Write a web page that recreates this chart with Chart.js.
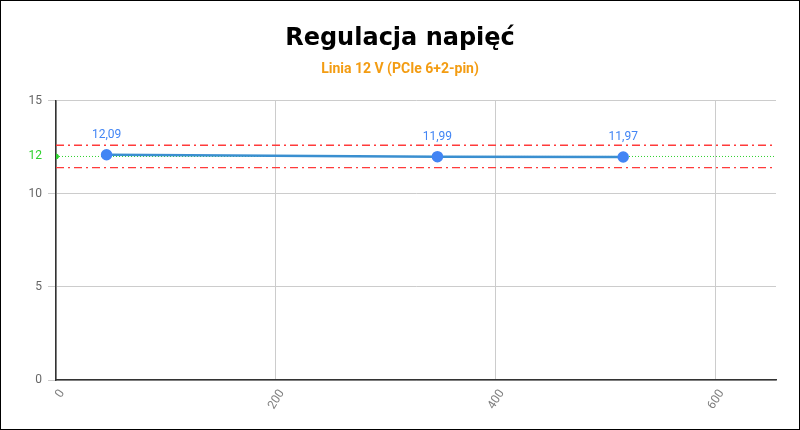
<!DOCTYPE html>
<html>
<head>
<meta charset="utf-8">
<script src="https://cdn.jsdelivr.net/npm/chart.js@4"></script>
<style>
  body { margin: 0; background: #fff; }
  #wrap { width: 800px; height: 430px; }
</style>
</head>
<body>
<div id="wrap"><canvas id="chart"></canvas></div>
<script>
// load (W) and measured voltage on the 12 V line
const loads = [46, 347, 516];
const voltages = [12.09, 11.99, 11.97];
const nominal = 12;
const upperLimit = 12.6;
const lowerLimit = 11.4;
const xMax = 655;
const xTicks = [0, 200, 400, 600];
const yTicks = [0, 5, 10, 12, 15];

const greenColor = '#2fd12f';
const blueColor = '#4285f4';
const redColor = '#ff3b3b';

// black frame round the whole picture
const framePlugin = {
    id: 'frame',
    afterDraw(chart) {
        const c = chart.ctx;
        c.save();
        c.strokeStyle = '#000';
        c.lineWidth = 2;
        c.strokeRect(0, 0, chart.width, chart.height);
        c.restore();
    }
};

// value labels above the points, with a decimal comma
const valueLabels = {
    id: 'valueLabels',
    afterDatasetsDraw(chart) {
        const meta = chart.getDatasetMeta(0);
        const c = chart.ctx;
        c.save();
        c.font = '12px Roboto';
        c.fillStyle = blueColor;
        c.textAlign = 'center';
        c.textBaseline = 'bottom';
        meta.data.forEach((pt, i) => {
            c.fillText(voltages[i].toFixed(2).replace('.', ','), pt.x, pt.y - 14);
        });
        c.restore();
    }
};

// slanted x labels, turned round a point a little right of the tick
const xLabels = {
    id: 'xLabels',
    afterDraw(chart) {
        const scale = chart.scales.x;
        const c = chart.ctx;
        c.save();
        c.font = '12px Roboto';
        c.fillStyle = '#808080';
        c.textAlign = 'right';
        c.textBaseline = 'middle';
        xTicks.forEach(v => {
            const px = scale.getPixelForValue(v);
            c.save();
            c.translate(px + 6, scale.top + 11);
            c.rotate(-58 * Math.PI / 180);
            c.fillText(String(v), 0, 0);
            c.restore();
        });
        c.restore();
    }
};

const ctx = document.getElementById('chart').getContext('2d');
const chart = new Chart(ctx, {
    type: 'scatter',
    data: {
        datasets: [{
            label: 'Napięcie',
            data: loads.map((x, i) => ({ x: x, y: voltages[i] })),
            showLine: true,
            borderColor: '#3a8fd0',
            backgroundColor: blueColor,
            pointBackgroundColor: blueColor,
            pointBorderColor: blueColor,
            borderWidth: 2.5,
            pointRadius: 4.5,
            order: 0
        }, {
            label: 'Nominal',
            data: [{ x: 0, y: nominal }, { x: xMax, y: nominal }],
            showLine: true,
            borderColor: greenColor,
            borderWidth: 1,
            borderDash: [1, 2],
            pointRadius: [2.5, 0],
            pointBackgroundColor: greenColor,
            pointBorderColor: greenColor,
            order: 1
        }, {
            label: 'Max',
            data: [{ x: 0, y: upperLimit }, { x: xMax, y: upperLimit }],
            showLine: true,
            borderColor: redColor,
            borderWidth: 1.4,
            borderDash: [8, 4, 2, 4],
            pointRadius: 0,
            order: 2
        }, {
            label: 'Min',
            data: [{ x: 0, y: lowerLimit }, { x: xMax, y: lowerLimit }],
            showLine: true,
            borderColor: redColor,
            borderWidth: 1.4,
            borderDash: [8, 4, 2, 4],
            pointRadius: 0,
            order: 2
        }]
    },
    options: {
        responsive: true,
        maintainAspectRatio: false,
        animation: false,
        layout: {
            padding: { top: 24, right: 12, bottom: 1, left: 12 }
        },
        scales: {
            x: {
                type: 'linear',
                min: 0,
                max: xMax,
                border: { display: true, color: '#333', width: 1.5 },
                grid: { color: '#cccccc', drawTicks: false },
                afterBuildTicks(scale) {
                    scale.ticks = xTicks.map(v => ({ value: v }));
                },
                ticks: { display: false },
                afterFit(scale) { scale.height = 49; }
            },
            y: {
                min: 0,
                max: 15,
                border: { display: true, color: '#333', width: 1.5 },
                afterBuildTicks(scale) {
                    scale.ticks = yTicks.map(v => ({ value: v }));
                },
                grid: {
                    color: c => (c.tick && c.tick.value === nominal) ? 'rgba(0,0,0,0)' : '#cccccc',
                    tickColor: c => (c.tick && c.tick.value === nominal) ? 'rgba(0,0,0,0)' : '#cccccc',
                    tickLength: 8
                },
                ticks: {
                    padding: 6,
                    color: c => (c.tick && c.tick.value === nominal) ? greenColor : '#666',
                    font: { family: 'Roboto', size: 12 }
                },
                afterFit(scale) { scale.width = 44; }
            },
            // empty axis on the right so the titles stay centred on the page
            yRight: {
                position: 'right',
                display: true,
                grid: { display: false },
                border: { display: false },
                ticks: { display: false },
                afterFit(scale) { scale.width = 12; }
            }
        },
        plugins: {
            legend: { display: false },
            tooltip: { enabled: false },
            title: {
                display: true,
                text: 'Regulacja napięć',
                color: '#000',
                font: { family: 'DejaVu Sans', size: 24, weight: 'bold' },
                padding: { top: 0, bottom: 8 }
            },
            subtitle: {
                display: true,
                text: 'Linia 12 V (PCIe 6+2-pin)',
                color: '#f39c12',
                font: { family: 'Roboto', size: 14, weight: 'bold' },
                padding: { top: 0, bottom: 23 }
            }
        }
    },
    plugins: [framePlugin, valueLabels, xLabels]
});
</script>
</body>
</html>
